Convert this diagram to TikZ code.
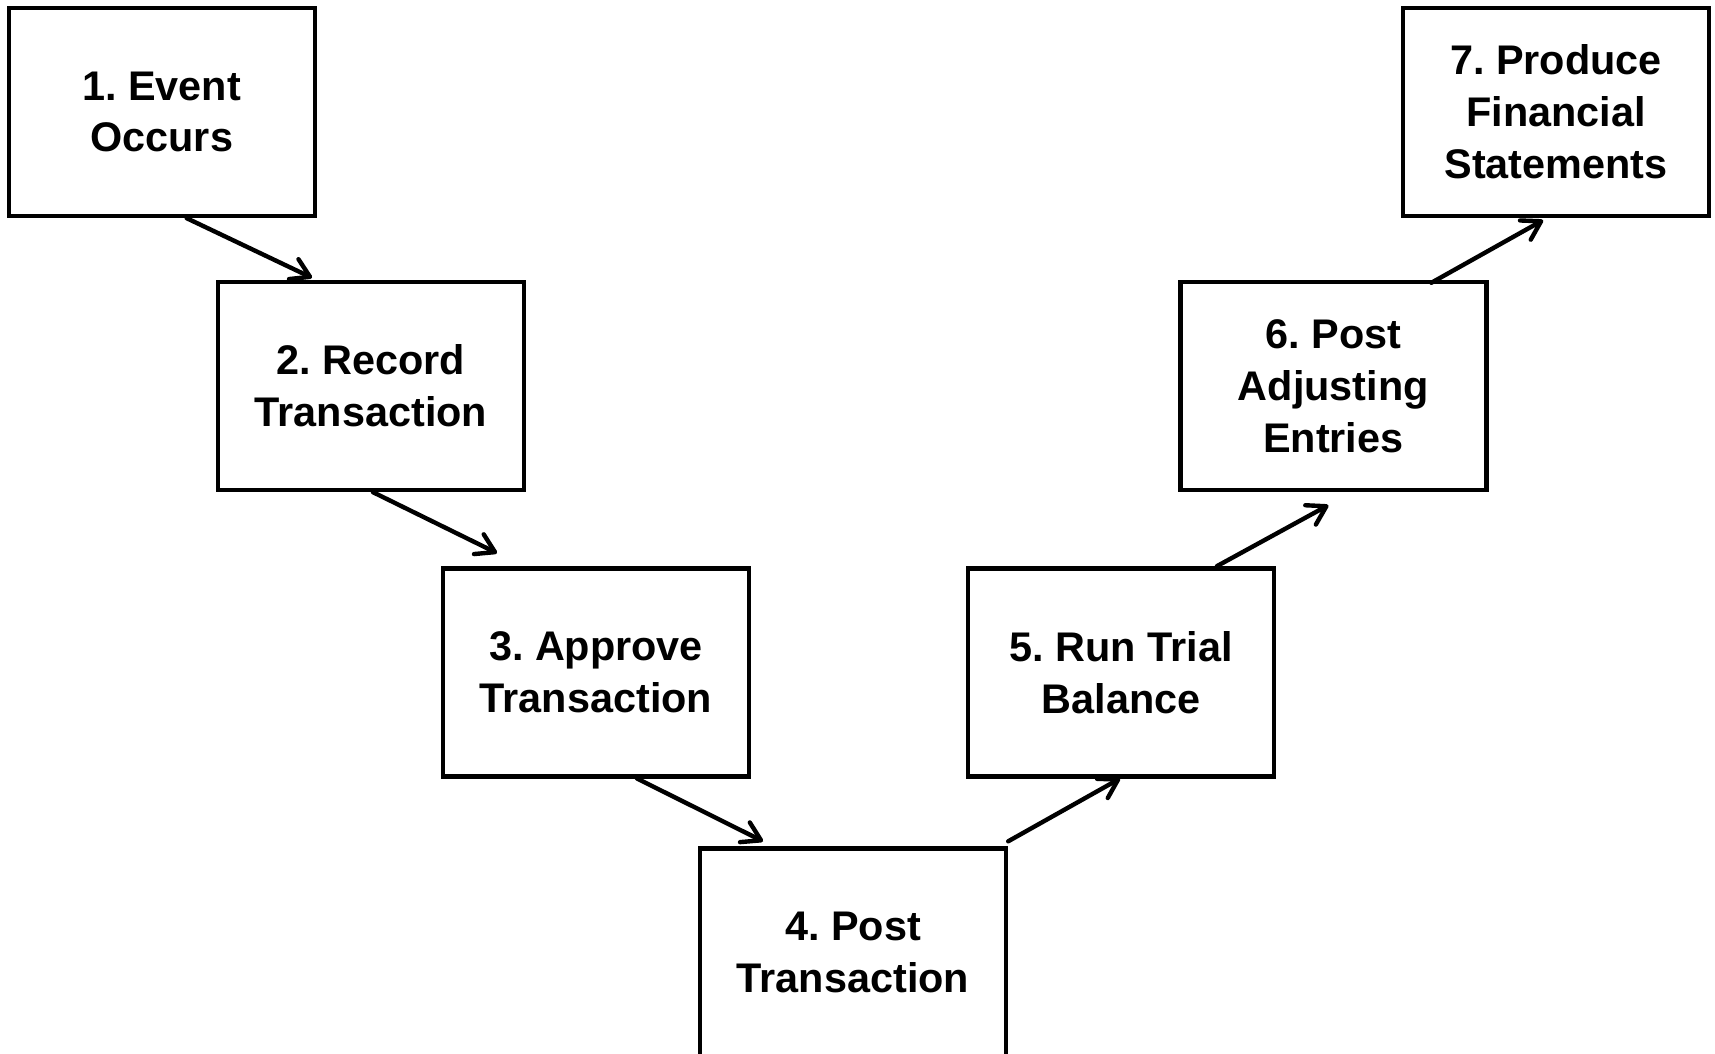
\documentclass[tikz,border=0pt]{standalone}
\usepackage{fontspec}
\setmainfont{Liberation Sans}
\usetikzlibrary{arrows.meta,calc}
\frenchspacing
\tikzset{
  stepbox/.style={draw=black, line width=2.2pt, fill=white, inner sep=0pt,
    minimum width=153pt, minimum height=104pt, align=center,
    font=\bfseries\fontsize{20.7}{25.9}\selectfont},
  flow/.style={draw=black, line width=2.2pt, line cap=round, line join=round,
    -{Straight Barb[length=9pt,width=11pt,line cap=round,line join=round]}}
}
\begin{document}
\begin{tikzpicture}[x=0.5pt,y=-0.5pt]
  \useasboundingbox (0,0) rectangle (1715,1054);
  \fill[white] (0,0) rectangle (1715,1054);
  \begin{scope}
  \clip (0,0) rectangle (1715,1054);
  % process steps
  \node[stepbox] (b1) at (161.7,112)  {1. Event\\Occurs};
  \node[stepbox] (b2) at (371,386)    {2. Record\\Transaction};
  \node[stepbox] (b3) at (596,672.3)  {3. Approve\\Transaction};
  \node[stepbox] (b4) at (853,952.5)  {4. Post\\Transaction};
  \node[stepbox] (b5) at (1121,672.3) {5. Run Trial\\Balance};
  \node[stepbox] (b6) at (1333.3,386) {6. Post\\Adjusting\\Entries};
  \node[stepbox] (b7) at (1556,112)   {7. Produce\\Financial\\Statements};
  % connectors between steps
  \draw[flow] ($(b1.south)+(25,0)$)     -- ($(b2.north)+(-59,-2)$);
  \draw[flow] ($(b2.south)+(2,0)$)      -- ($(b3.north)+(-99,-13)$);
  \draw[flow] ($(b3.south)+(41,0)$)     -- ($(b4.north)+(-90,-5)$);
  \draw[flow] ($(b4.north east)+(0,-5)$) -- ($(b5.south)+(-1,0)$);
  \draw[flow] ($(b5.north)+(96,0)$)     -- ($(b6.south)+(-5,13)$);
  \draw[flow] ($(b6.north)+(98,3)$)     -- ($(b7.south)+(-13,2)$);
  \end{scope}
\end{tikzpicture}
\end{document}
